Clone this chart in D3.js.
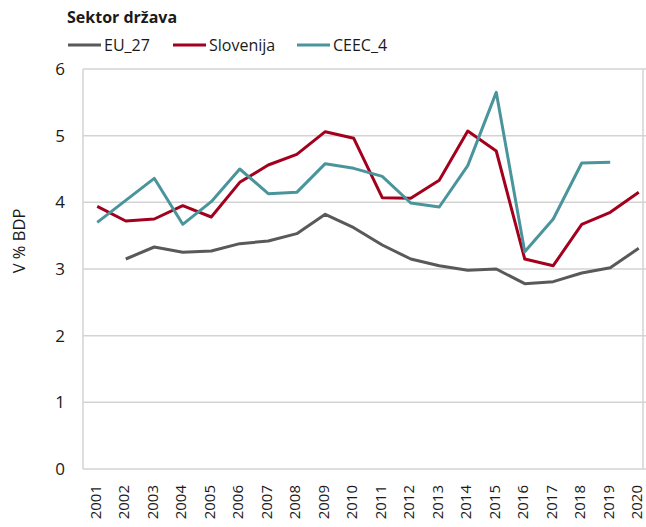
<!DOCTYPE html>
<html><head><meta charset="utf-8">
<script src="https://cdn.jsdelivr.net/npm/d3@7"></script>
<style>
html,body{margin:0;padding:0;background:#fff;}
text{font-family:"Open Sans",sans-serif;fill:#1a1a1a;}
</style></head>
<body>
<script>
const years = ["2001","2002","2003","2004","2005","2006","2007","2008","2009","2010","2011","2012","2013","2014","2015","2016","2017","2018","2019","2020"];
const eu27 = [null,3.15,3.33,3.25,3.27,3.38,3.42,3.53,3.82,3.62,3.36,3.15,3.05,2.98,3.00,2.78,2.81,2.94,3.02,3.31];
const slovenija = [3.94,3.72,3.75,3.95,3.78,4.30,4.56,4.72,5.06,4.96,4.07,4.06,4.33,5.07,4.77,3.15,3.05,3.67,3.85,4.15];
const ceec4 = [3.70,4.03,4.36,3.67,4.01,4.50,4.13,4.15,4.58,4.51,4.39,3.99,3.93,4.55,5.65,3.26,3.75,4.59,4.60,null];
const yTicks = [0,1,2,3,4,5,6];
const seriesNames = ["EU_27","Slovenija","CEEC_4"];
const seriesColors = ["#595959","#a3001e","#4a959c"];
const seriesData = [eu27, slovenija, ceec4];

const W = 646, H = 527;
const svg = d3.select("body").append("svg").attr("width", W).attr("height", H);

const pL = 83, pR = 653, pT = 69, pB = 469;
const x = d3.scaleBand().domain(years).range([pL, pR]);
const y = d3.scaleLinear().domain([0, 6]).range([pB, pT]);

// gridlines
svg.append("g").selectAll("line").data(yTicks).join("line")
  .attr("x1", pL).attr("x2", W).attr("y1", d => y(d)).attr("y2", d => y(d))
  .attr("stroke", "#d3d3d3").attr("stroke-width", 1.5);
// frame
svg.append("line").attr("x1", pL).attr("x2", pL).attr("y1", pT).attr("y2", pB)
  .attr("stroke", "#d3d3d3").attr("stroke-width", 1.5);
svg.append("line").attr("x1", 643).attr("x2", 643).attr("y1", pT).attr("y2", pB)
  .attr("stroke", "#d3d3d3").attr("stroke-width", 1.5);

// y ticks
svg.append("g").selectAll("text").data(yTicks).join("text")
  .attr("x", 65).attr("y", d => y(d)).attr("dy", "0.35em")
  .attr("text-anchor", "end").attr("font-size", 17).text(d => d);

// y label
svg.append("text").attr("transform", "translate(25,241) rotate(-90)")
  .attr("text-anchor", "middle").attr("font-size", 16.5).text("V % BDP");

// x labels
svg.append("g").selectAll("text").data(years).join("text")
  .attr("transform", d => `translate(${x(d) + x.bandwidth()/2 + 3.5},485) rotate(-90)`)
  .attr("text-anchor", "end").attr("font-size", 15).text(d => d);

// lines
const line = d3.line()
  .defined(d => d.v != null)
  .x(d => x(d.yr) + x.bandwidth()/2)
  .y(d => y(d.v));
seriesData.forEach((arr, i) => {
  svg.append("path")
    .datum(years.map((yr, j) => ({yr, v: arr[j]})))
    .attr("d", line).attr("fill", "none")
    .attr("stroke", seriesColors[i]).attr("stroke-width", 3)
    .attr("stroke-linejoin", "round");
});

// title
svg.append("text").attr("x", 67).attr("y", 23).attr("font-size", 16)
  .attr("font-weight", "bold").text("Sektor država");

// legend
const legX = [68, 173, 297];
seriesNames.forEach((n, i) => {
  const g = svg.append("g").attr("transform", `translate(${legX[i]},45)`);
  g.append("line").attr("x1", 0).attr("x2", 33).attr("y1", 0).attr("y2", 0)
    .attr("stroke", seriesColors[i]).attr("stroke-width", 3);
  g.append("text").attr("x", 36).attr("y", 0).attr("dy", "0.35em")
    .attr("font-size", 16).text(n);
});
</script>
</body></html>
